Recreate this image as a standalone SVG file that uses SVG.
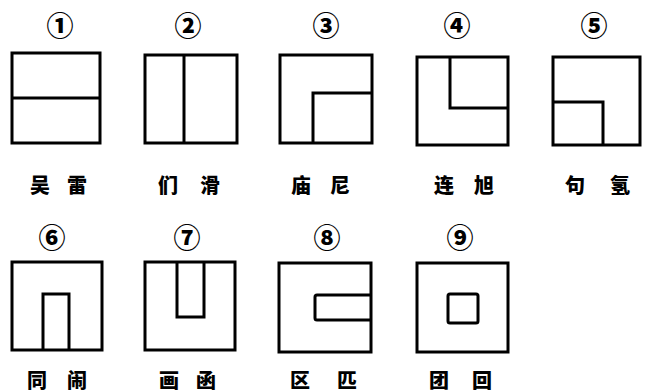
<svg xmlns="http://www.w3.org/2000/svg" width="645" height="392" viewBox="0 0 645 392">
<style>
.b{fill:none;stroke:#000;stroke-width:3;stroke-linejoin:miter}
.n{font-family:"Noto Sans CJK SC","DejaVu Sans",sans-serif;font-size:27px;font-weight:900;text-anchor:middle;dominant-baseline:central}
.l{font-family:"Noto Sans CJK SC",sans-serif;font-size:20px;font-weight:900;text-anchor:middle;dominant-baseline:central}
</style>
<rect width="645" height="392" fill="#fff"/>
<g id="node1">
<text class="n" x="60" y="24">①</text>
<rect class="b" x="12" y="53" width="88" height="90"/>
<path class="b" d="M12,98 H100"/>
<text class="l" y="184"><tspan x="40">吴</tspan><tspan x="77">雷</tspan></text>
</g>
<g id="node2">
<text class="n" x="188" y="24">②</text>
<rect class="b" x="145" y="55" width="92" height="88"/>
<path class="b" d="M184,55 V143"/>
<text class="l" y="184"><tspan x="168">们</tspan><tspan x="210">滑</tspan></text>
</g>
<g id="node3">
<text class="n" x="326" y="24">③</text>
<rect class="b" x="280" y="55" width="92" height="88"/>
<path class="b" d="M313,143 V93 H372"/>
<text class="l" y="184"><tspan x="301">庙</tspan><tspan x="340">尼</tspan></text>
</g>
<g id="node4">
<text class="n" x="457" y="24">④</text>
<rect class="b" x="417" y="57" width="91" height="88"/>
<path class="b" d="M450,57 V108 H508"/>
<text class="l" y="184"><tspan x="444">连</tspan><tspan x="484">旭</tspan></text>
</g>
<g id="node5">
<text class="n" x="594" y="24">⑤</text>
<rect class="b" x="553" y="57" width="87" height="88"/>
<path class="b" d="M553,102 H603 V145"/>
<text class="l" y="184"><tspan x="575">句</tspan><tspan x="620">氢</tspan></text>
</g>
<g id="node6">
<text class="n" x="52" y="236">⑥</text>
<rect class="b" x="12" y="262" width="90" height="88"/>
<path class="b" d="M43,350 V294 H69 V350"/>
<text class="l" y="379"><tspan x="37">同</tspan><tspan x="77">闹</tspan></text>
</g>
<g id="node7">
<text class="n" x="187" y="236">⑦</text>
<rect class="b" x="145" y="262" width="90" height="88"/>
<path class="b" d="M177,262 V317 H204 V262"/>
<text class="l" y="379"><tspan x="169">画</tspan><tspan x="206">函</tspan></text>
</g>
<g id="node8">
<text class="n" x="327" y="236">⑧</text>
<rect class="b" x="279" y="263" width="92" height="89"/>
<path class="b" d="M371,295 H317 Q315,295 315,297 V318 Q315,320 317,320 H371"/>
<text class="l" y="379"><tspan x="300">区</tspan><tspan x="347">匹</tspan></text>
</g>
<g id="node9">
<text class="n" x="460" y="236">⑨</text>
<rect class="b" x="417" y="263" width="91" height="89"/>
<rect class="b" x="448" y="294" width="30" height="29" rx="2"/>
<text class="l" y="379"><tspan x="439">团</tspan><tspan x="482">回</tspan></text>
</g>
<g id="connectors"></g>
</svg>
